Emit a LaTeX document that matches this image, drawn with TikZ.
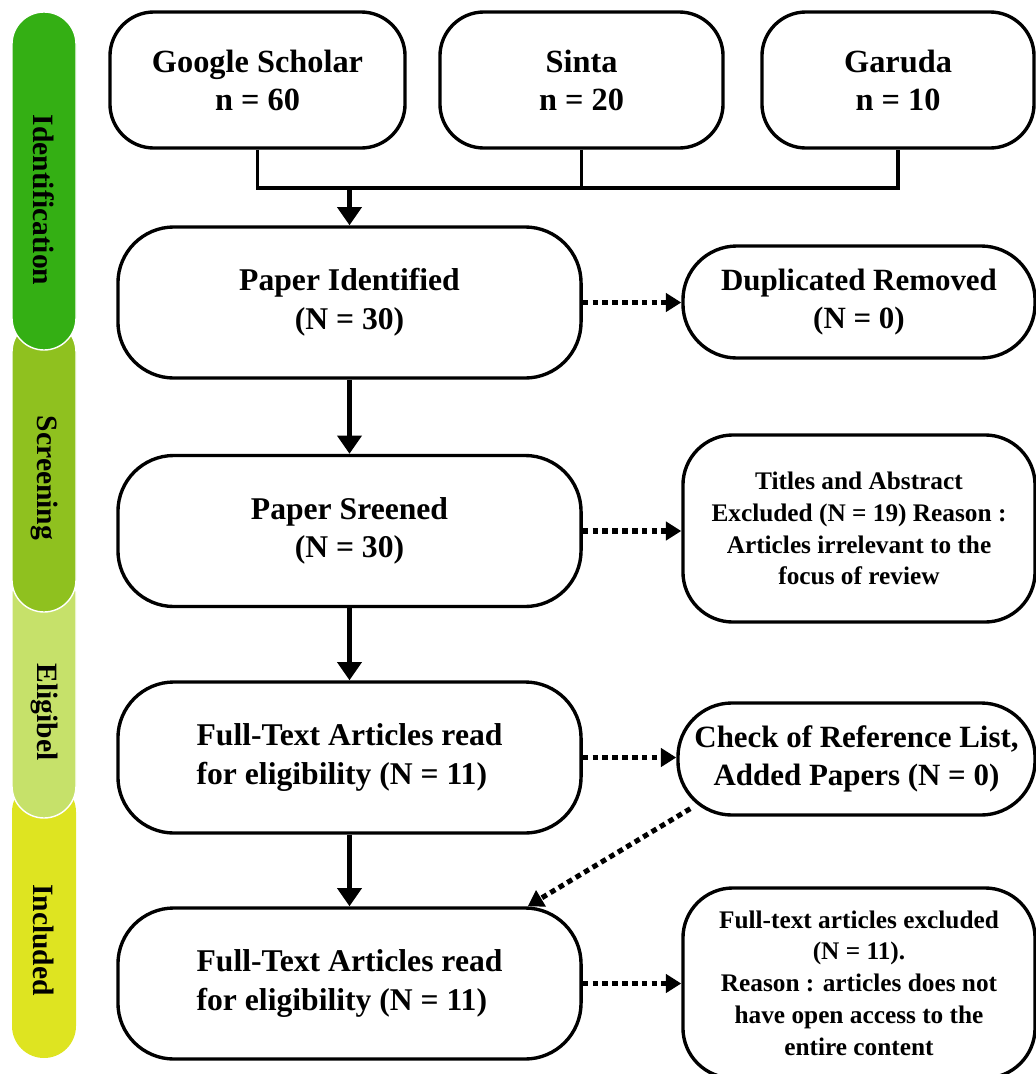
\documentclass[tikz,border=0pt]{standalone}
\usepackage{fontspec}
\setmainfont{Liberation Serif}
\usepackage{xcolor}
\usetikzlibrary{arrows.meta, calc}

\definecolor{idgreen}{RGB}{52,175,20}
\definecolor{scrgreen}{RGB}{143,193,31}
\definecolor{eliglime}{RGB}{198,225,106}
\definecolor{inclyel}{RGB}{222,228,33}

\begin{document}
\begin{tikzpicture}[
  x=0.025cm, y=-0.025cm,
  srcbox/.style={draw, line width=2.4pt, rounded corners=1.1cm, minimum height=3.4cm,
                 align=center, inner sep=0pt, font=\fontsize{23}{27}\selectfont\bfseries},
  stagebox/.style={draw, line width=2.4pt, rounded corners=1.4cm, minimum width=11.575cm,
                   minimum height=3.775cm, inner sep=0pt, font=\fontsize{22.5}{27.5}\selectfont\bfseries},
  sidebox/.style={draw, line width=2.4pt, rounded corners=1.35cm, minimum width=8.8cm,
                  minimum height=2.8cm, align=center, inner sep=0pt,
                  font=\fontsize{22}{27}\selectfont\bfseries},
  notebox/.style={draw, line width=2.4pt, rounded corners=1.25cm, minimum width=8.8cm,
                  align=center, inner sep=0pt, font=\fontsize{18}{22.6}\selectfont\bfseries},
  phase/.style={rotate=-90, inner sep=0pt, font=\fontsize{21}{21}\selectfont\bfseries},
  conn/.style={line width=2.4pt},
  flow/.style={-{Triangle[width=17pt,length=13pt]}, line width=3.2pt},
  dotflow/.style={-{Triangle[width=13pt,length=11pt]}, line width=3.6pt, dash pattern=on 4pt off 3pt}
]
\useasboundingbox (0,0) rectangle (1036,1074);

% --- phase bar (drawn bottom up) ---
\fill[inclyel, rounded corners=0.8cm] (12,780) rectangle (76,1058);
\filldraw[fill=eliglime, draw=white, line width=1pt, rounded corners=0.8cm] (12,560) rectangle (76,818);
\filldraw[fill=scrgreen, draw=white, line width=1pt, rounded corners=0.8cm] (12,320) rectangle (76,612);
\filldraw[fill=idgreen, draw=white, line width=1pt, rounded corners=0.8cm] (12,12) rectangle (76,350);

\node[phase] (phid)   at (44,200) {Identification};
\node[phase] (phscr)  at (44,478) {Screening};
\node[phase] (phelig) at (44,712) {Eligibel};
\node[phase] (phincl) at (44,940) {Included};

% --- sources ---
\node[srcbox, minimum width=7.375cm] (gs)     at (257.5,80) {Google Scholar\\n = 60};
\node[srcbox, minimum width=7.075cm] (sinta)  at (581.5,80) {Sinta\\n = 20};
\node[srcbox, minimum width=6.8cm]   (garuda) at (898,80)   {Garuda\\n = 10};

% --- main stages ---
\node[stagebox, align=center] (pid)  at (349.5,302.5) {Paper Identified\\(N = 30)};
\node[stagebox, align=center] (pscr) at (349.5,531)   {Paper Sreened\\(N = 30)};
\node[stagebox, align=left]   (ft1)  at (349.5,757.5) {Full-Text Articles read\\for eligibility (N = 11)};
\node[stagebox, align=left]   (ft2)  at (349.5,983.5) {Full-Text Articles read\\for eligibility (N = 11)};

% --- side boxes ---
\node[sidebox] (dup) at (859,302) {Duplicated Removed\\(N = 0)};
\node[notebox, minimum height=4.675cm] (tae) at (859,528.5)
  {Titles and Abstract\\Excluded (N = 19) Reason :\\Articles irrelevant to the\\focus of review};
\node[sidebox, minimum width=8.925cm] (chk) at (856.5,759)
  {Check of Reference List,\\Added Papers (N = 0)};
\node[notebox, minimum height=4.75cm] (fte) at (859,983)
  {Full-text articles excluded\\(N = 11).\\Reason : articles does not\\have open access to the\\entire content};

% --- merge of sources ---
\coordinate (hub) at (349.5,188);
\draw[conn] (gs.south) |- (hub) -| (garuda.south);
\draw[conn] (sinta.south) -- (sinta.south |- hub);
\draw[flow] (hub) -- (pid.north);

% --- main flow ---
\draw[flow] (pid) -- (pscr);
\draw[flow] (pscr) -- (ft1);
\draw[flow] (ft1) -- (ft2);

% --- side flows ---
\draw[dotflow] (pid.east) -- (pid.east -| dup.west);
\draw[dotflow] (pscr.east) -- (pscr.east -| tae.west);
\draw[dotflow] (ft1.east) -- (ft1.east -| chk.west);
\draw[dotflow] (ft2.east) -- (ft2.east -| fte.west);
\draw[dotflow] ($(chk.south west)+(14,-8)$) -- ($(ft2.north east)+(-55,0)$);

\end{tikzpicture}
\end{document}
